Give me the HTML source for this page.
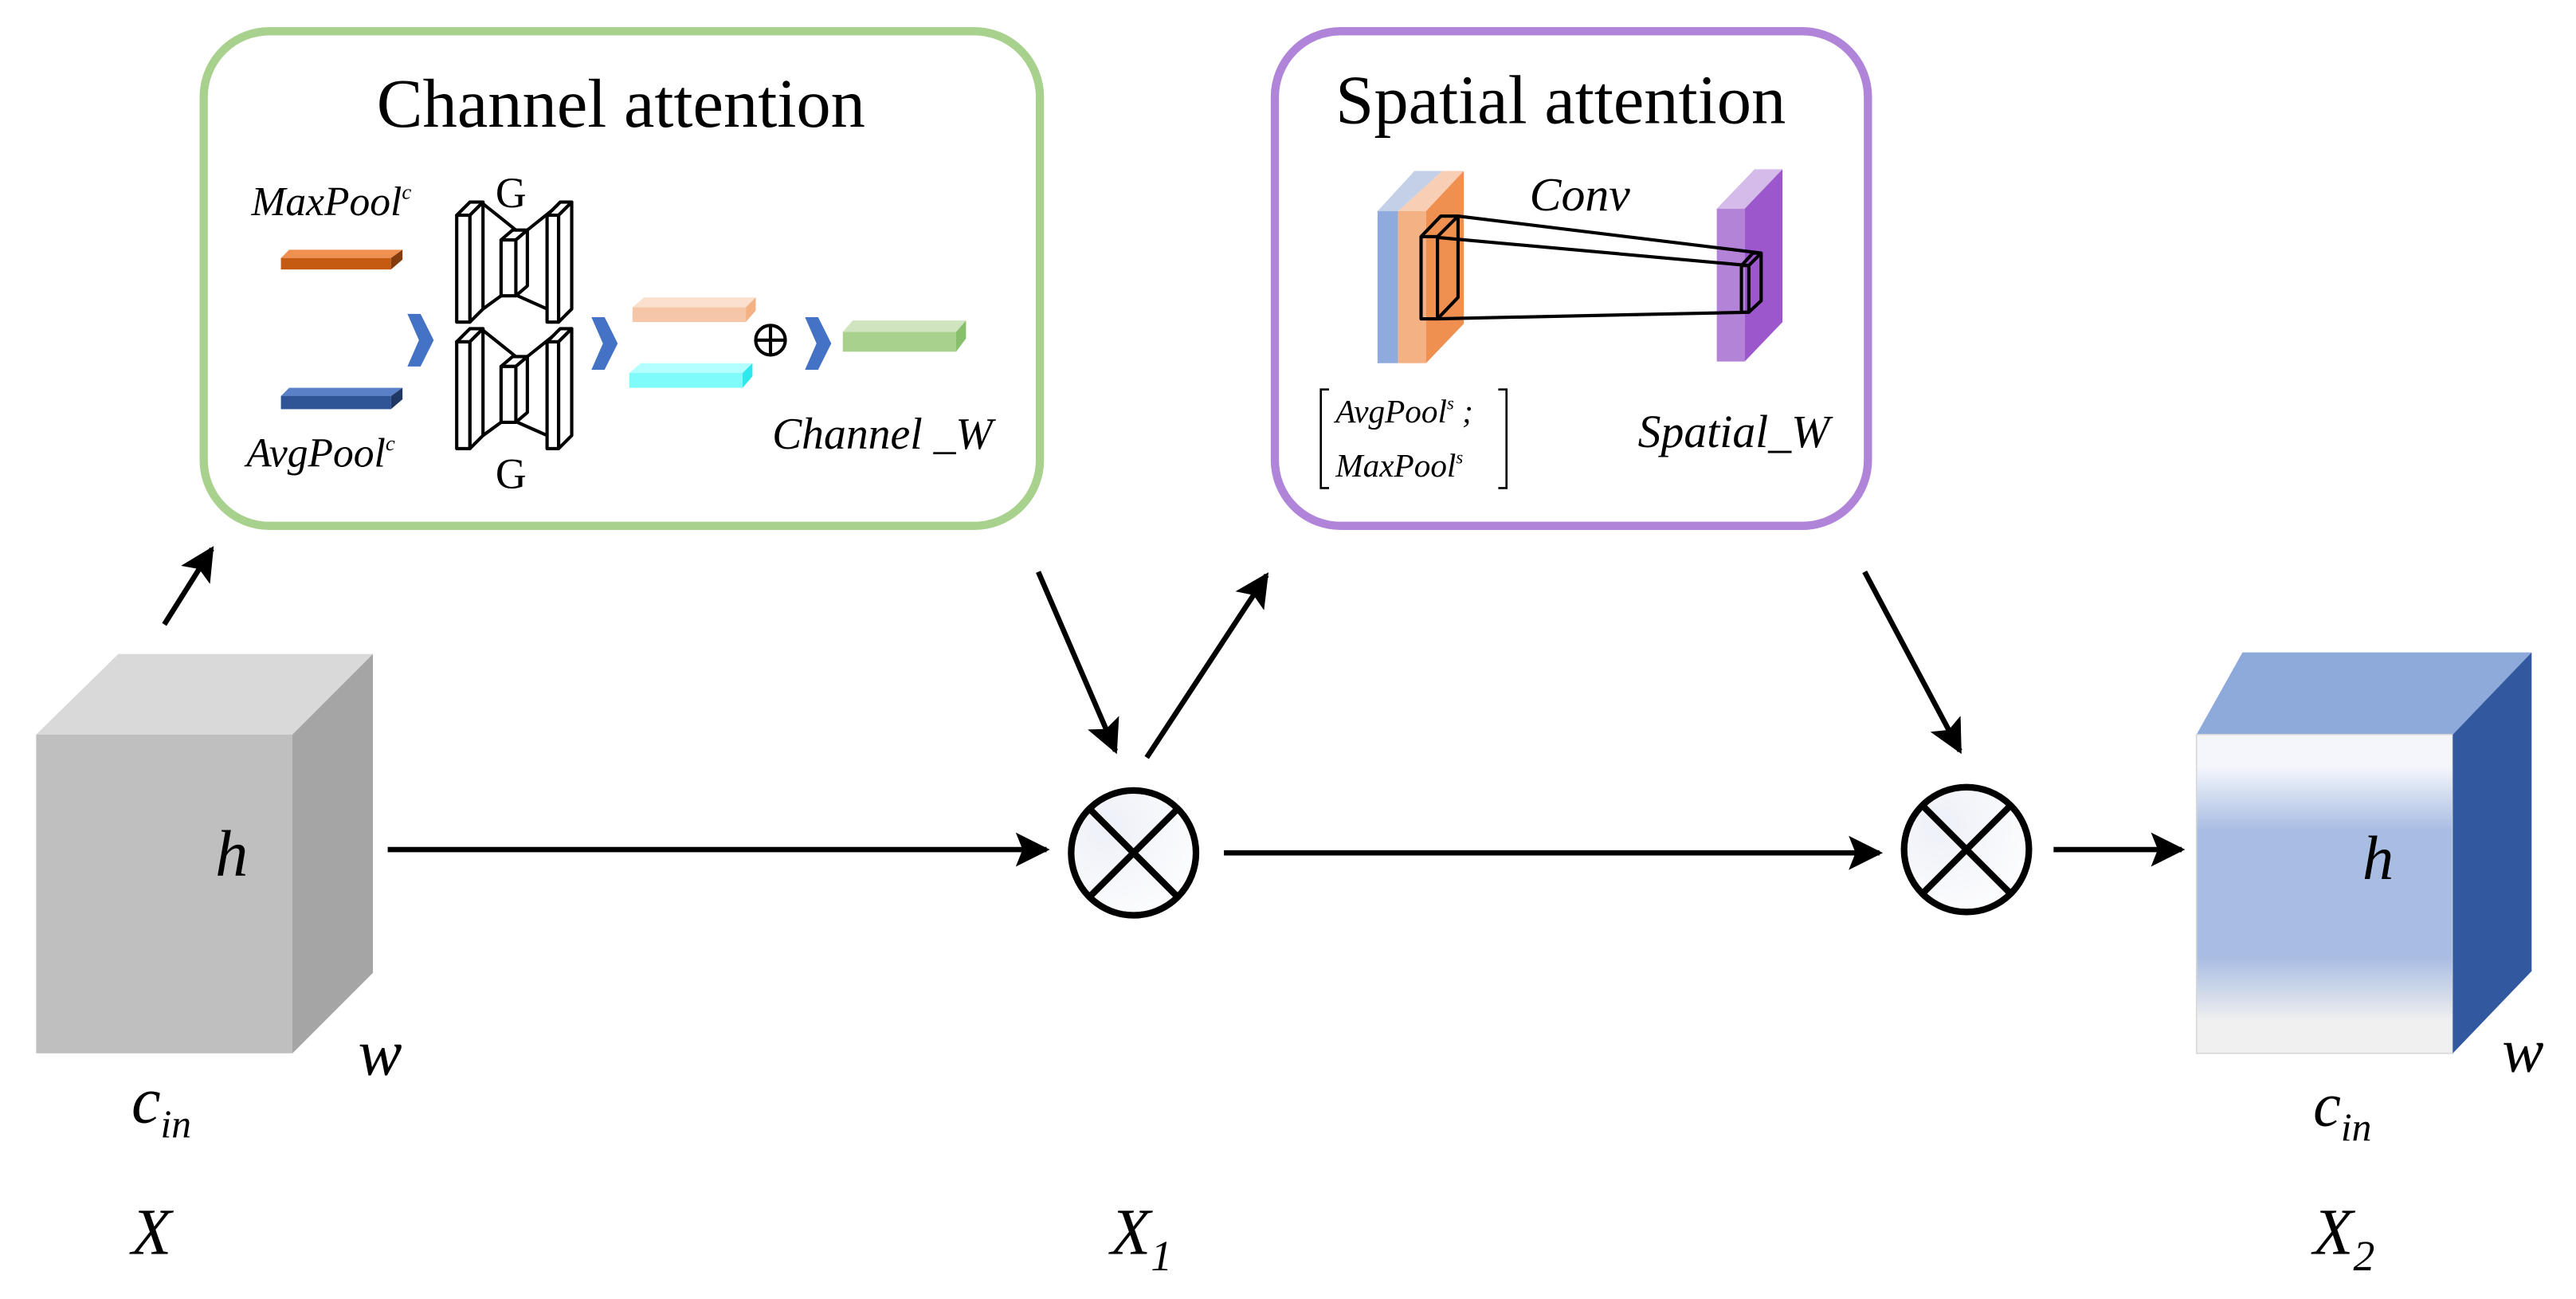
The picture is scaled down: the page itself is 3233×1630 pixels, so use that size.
<!DOCTYPE html>
<html><head><meta charset="utf-8"><style>
html,body{margin:0;padding:0;background:#fff;}
svg{display:block;font-family:"Liberation Serif","Times New Roman",serif;}
svg text{font-family:"Liberation Serif","Times New Roman",serif !important;}
</style></head><body>
<svg width="3233" height="1630" viewBox="0 0 1568 790.5" preserveAspectRatio="none" xmlns="http://www.w3.org/2000/svg" font-family="'Liberation Serif', serif">
<defs>
<marker id="ah" viewBox="0 0 10 10" refX="9" refY="5" markerWidth="6.5" markerHeight="6.5" orient="auto" markerUnits="strokeWidth">
<path d="M0,0 L10,5 L0,10 L2,5 z" fill="#000"/></marker>
<linearGradient id="bg" x1="0" y1="0" x2="0" y2="1">
<stop offset="0" stop-color="#f4f6fb"/><stop offset="0.1" stop-color="#f4f6fb"/><stop offset="0.3" stop-color="#a9bde3"/><stop offset="0.7" stop-color="#a9bde3"/><stop offset="0.9" stop-color="#f0f0f0"/><stop offset="1" stop-color="#f0f0f0"/></linearGradient>
<radialGradient id="cg" cx="0.3" cy="0.3" r="0.9"><stop offset="0" stop-color="#eef0f8"/><stop offset="1" stop-color="#ffffff"/></radialGradient>
</defs>

<!-- Channel attention box -->
<rect x="124" y="19" width="509" height="301" rx="40" fill="none" stroke="#a9d18e" stroke-width="5"/>
<text x="378" y="77" font-size="42" text-anchor="middle">Channel attention</text>
<text x="153" y="131" font-size="25" font-style="italic">MaxPool<tspan font-size="13" dy="-10">c</tspan></text>
<text x="150" y="284" font-size="25" font-style="italic">AvgPool<tspan font-size="13" dy="-10">c</tspan></text>
<!-- orange bar -->
<polygon points="171,157 176,152 245,152 238,157" fill="#f09050"/>
<rect x="171" y="157" width="67" height="7" fill="#c55a11"/>
<polygon points="238,157 245,152 245,158 238,164" fill="#843c0c"/>
<!-- blue bar -->
<polygon points="171,241 176,236 245,236 238,241" fill="#5a80c8"/>
<rect x="171" y="241" width="67" height="8" fill="#2f5597"/>
<polygon points="238,241 245,236 245,243 238,249" fill="#1f3864"/>
<!-- chevrons -->
<g fill="#4472c4">
<polygon points="248,191 256,191 264,207 256,223 248,223 255,207"/>
<polygon points="360,193 368,193 376,209 368,225 360,225 367,209"/>
<polygon points="490,193 498,193 506,209 498,225 490,225 497,209"/>
</g>
<!-- hourglasses -->
<g id="hg" fill="#fff" stroke="#000" stroke-width="2" stroke-linejoin="round">
<path d="M294,124 L314,140 M294,188 L305,180 M321,140 L341,124 M315,180 L333,188" fill="none"/>
<polygon points="278,131 286,131 294,123 286,123"/><polygon points="286,131 294,123 294,188 286,196"/><rect x="278" y="131" width="8" height="65"/>
<polygon points="305,146 314,146 321,140 312,140"/><polygon points="314,146 321,140 321,174 314,180"/><rect x="305" y="146" width="9" height="34"/>
<polygon points="333,131 340,131 348,123 341,123"/><polygon points="340,131 348,123 348,188 340,196"/><rect x="333" y="131" width="7" height="65"/>
</g>
<use href="#hg" transform="translate(0,77)"/>
<text x="311" y="126" font-size="26" text-anchor="middle">G</text>
<text x="311" y="297" font-size="26" text-anchor="middle">G</text>
<!-- peach / cyan bars -->
<polygon points="385,187 392,181 460,181 454,187" fill="#fbe0cf"/>
<rect x="385" y="187" width="69" height="9" fill="#f5c6a8"/>
<polygon points="454,187 460,181 460,189 454,196" fill="#f4b183"/>
<polygon points="383,227 390,221 458,221 452,227" fill="#b3ffff"/>
<rect x="383" y="227" width="69" height="9" fill="#7ffbfb"/>
<polygon points="452,227 458,221 458,229 452,236" fill="#2ee8ee"/>
<circle cx="469" cy="207" r="9" fill="none" stroke="#000" stroke-width="2"/>
<path d="M460,207 H478 M469,198 V216" stroke="#000" stroke-width="2"/>
<!-- green bar -->
<polygon points="513,202 519,195 588,195 582,202" fill="#d0e4c0"/>
<rect x="513" y="202" width="69" height="12" fill="#a9d18e"/>
<polygon points="582,202 588,195 588,206 582,214" fill="#86c06a"/>
<text x="470" y="273" font-size="27" font-style="italic">Channel _W</text>

<!-- Spatial attention box -->
<rect x="776" y="19" width="361" height="301" rx="40" fill="none" stroke="#b084d8" stroke-width="5"/>
<text x="950" y="75" font-size="42" text-anchor="middle">Spatial attention</text>
<polygon points="838.5,128.5 861,104 878,104 851,128.5" fill="#c3d0e8"/>
<polygon points="851,128.5 878,104 891,104 868,128.5" fill="#f8cfb5"/>
<rect x="838.5" y="128.5" width="12.5" height="92.5" fill="#8faadc"/>
<rect x="851" y="128.5" width="17" height="92.5" fill="#f4b183"/>
<polygon points="868,128.5 891,104 891,197 868,221" fill="#ef9050"/>
<polygon points="1045,127 1068,103 1085,103 1062,127" fill="#d5bbea"/>
<rect x="1045" y="127" width="17" height="93" fill="#b383d8"/>
<polygon points="1062,127 1085,103 1085,196 1062,220" fill="#9b57cb"/>
<g fill="none" stroke="#000" stroke-width="2" stroke-linejoin="round">
<rect x="865" y="144" width="10" height="50"/>
<polyline points="865,144 877,131.5 887.5,131.5 887.5,181 875,194"/>
<line x1="875" y1="144" x2="887.5" y2="131.5"/>
<line x1="887.5" y1="131.5" x2="1072" y2="154"/>
<line x1="875" y1="144.5" x2="1064.5" y2="161.6"/>
<line x1="875" y1="194" x2="1064.5" y2="190"/>
<rect x="1060" y="161.6" width="4.5" height="28.4"/>
<polyline points="1060,161.6 1067,154 1072,154 1072,183 1064.5,190"/>
<line x1="1064.5" y1="161.6" x2="1072" y2="154"/>
</g>
<text x="931" y="128" font-size="29" font-style="italic">Conv</text>
<path d="M809,237 L804,237 L804,297 L809,297 M912,237 L917,237 L917,297 L912,297" fill="none" stroke="#000" stroke-width="1.3"/>
<text x="813" y="257" font-size="20" font-style="italic">AvgPool<tspan font-size="11" dy="-8">s</tspan><tspan dy="8"> ;</tspan></text>
<text x="813" y="290" font-size="20" font-style="italic">MaxPool<tspan font-size="11" dy="-8">s</tspan></text>
<text x="997" y="272" font-size="28" font-style="italic">Spatial_W</text>

<!-- gray cube -->
<polygon points="22,447 72,398 227,398 178,447" fill="#d9d9d9"/>
<rect x="22" y="447" width="156" height="194" fill="#bfbfbf"/>
<polygon points="178,447 227,398 227,592 178,641" fill="#a5a5a5"/>
<text x="131" y="533" font-size="40" font-style="italic">h</text>
<text x="218" y="654" font-size="40" font-style="italic">w</text>
<text x="80" y="683" font-size="40" font-style="italic">c<tspan font-size="24" dy="9">in</tspan></text>
<text x="80" y="763" font-size="40" font-style="italic">X</text>

<!-- blue cube -->
<polygon points="1337,447 1365,397 1541,397 1493,447" fill="#8eaadb"/>
<rect x="1337" y="447" width="156" height="194" fill="url(#bg)" stroke="#d8d8d8" stroke-width="0.8"/>
<polygon points="1493,447 1541,397 1541,591 1493,641" fill="#3259a0"/>
<text x="1438" y="535" font-size="38" font-style="italic">h</text>
<text x="1523" y="652" font-size="38" font-style="italic">w</text>
<text x="1408" y="685" font-size="38" font-style="italic">c<tspan font-size="24" dy="9">in</tspan></text>
<text x="1408" y="763" font-size="40" font-style="italic">X<tspan font-size="26" dy="10">2</tspan></text>
<text x="676" y="763" font-size="40" font-style="italic">X<tspan font-size="26" dy="10">1</tspan></text>

<!-- circles -->
<g stroke="#000" stroke-width="4">
<circle cx="690" cy="519" r="38" fill="url(#cg)"/>
<line x1="663" y1="492" x2="717" y2="546"/><line x1="717" y1="492" x2="663" y2="546"/>
<circle cx="1197" cy="517" r="38" fill="url(#cg)"/>
<line x1="1170" y1="490" x2="1224" y2="544"/><line x1="1224" y1="490" x2="1170" y2="544"/>
</g>

<!-- arrows -->
<g stroke="#000" stroke-width="3.2" fill="none" marker-end="url(#ah)">
<line x1="100" y1="380" x2="129" y2="334"/>
<line x1="236" y1="517" x2="637" y2="517"/>
<line x1="632" y1="348" x2="679" y2="457"/>
<line x1="698" y1="461" x2="771" y2="350"/>
<line x1="745" y1="519" x2="1144" y2="519"/>
<line x1="1135" y1="348" x2="1193" y2="457"/>
<line x1="1250" y1="517" x2="1328" y2="517"/>
</g>
</svg>
</body></html>
